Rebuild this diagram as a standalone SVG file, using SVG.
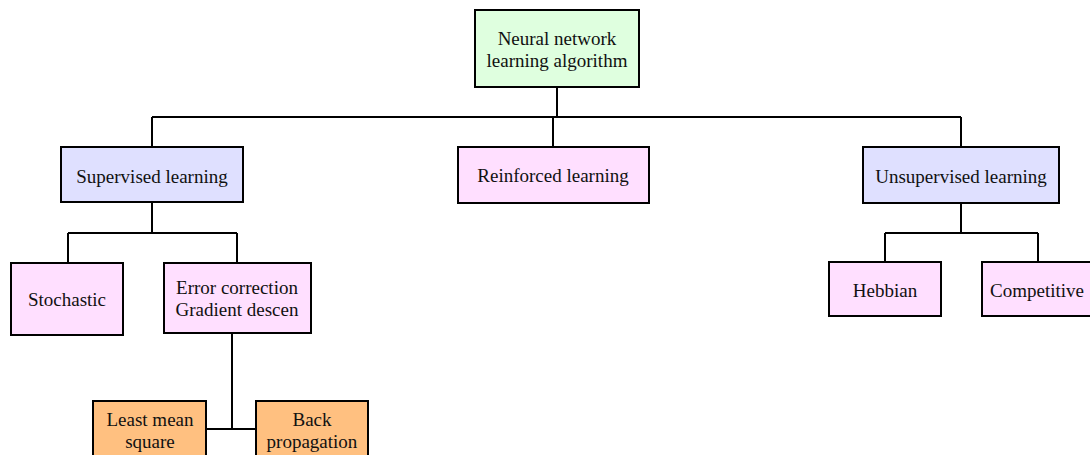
<svg xmlns="http://www.w3.org/2000/svg" width="1090" height="455" viewBox="0 0 1090 455">
  <style>
    .box { stroke: #000; stroke-width: 2; }
    .root { fill: #dfffdf; }
    .cat { fill: #dfe0ff; }
    .leaf { fill: #ffdfff; }
    .algo { fill: #ffc080; }
    text { font-family: "Liberation Serif", "Times New Roman", serif; font-size: 19px; fill: #111; text-anchor: middle; dominant-baseline: central; }
    .wire { fill: none; stroke: #000; stroke-width: 2; }
  </style>
  <rect width="1090" height="455" fill="#fff"/>

  <g id="connectors">
    <path class="wire" d="M557 87 V117 M152 117 H961 M152 117 V147 M553 117 V147 M961 117 V147"/>
    <path class="wire" d="M152 202 V233 M68 233 H237 M68 233 V263 M237 233 V263"/>
    <path class="wire" d="M961 203 V233 M885 233 H1038 M885 233 V262 M1038 233 V262"/>
    <path class="wire" d="M232 333 V429 M206 429 H256"/>
  </g>

  <g id="root">
    <rect class="box root" x="475" y="10" width="164" height="77"/>
    <text x="557" y="38">Neural network</text>
    <text x="557" y="60">learning algorithm</text>
  </g>

  <g id="supervised">
    <rect class="box cat" x="61" y="147" width="182" height="55"/>
    <text x="152" y="176">Supervised learning</text>
  </g>

  <g id="reinforced">
    <rect class="box leaf" x="458" y="147" width="191" height="56"/>
    <text x="553" y="175">Reinforced learning</text>
  </g>

  <g id="unsupervised">
    <rect class="box cat" x="863" y="147" width="196" height="56"/>
    <text x="961" y="176">Unsupervised learning</text>
  </g>

  <g id="stochastic">
    <rect class="box leaf" x="11" y="263" width="112" height="72"/>
    <text x="67" y="299">Stochastic</text>
  </g>

  <g id="error-correction">
    <rect class="box leaf" x="164" y="263" width="147" height="70"/>
    <text x="237" y="287">Error correction</text>
    <text x="237" y="309">Gradient descen</text>
  </g>

  <g id="hebbian">
    <rect class="box leaf" x="829" y="262" width="112" height="54"/>
    <text x="885" y="290">Hebbian</text>
  </g>

  <g id="competitive">
    <rect class="box leaf" x="982" y="262" width="110" height="54"/>
    <text x="1037" y="290">Competitive</text>
  </g>

  <g id="least-mean-square">
    <rect class="box algo" x="93" y="401" width="113" height="60"/>
    <text x="150" y="419">Least mean</text>
    <text x="150" y="441">square</text>
  </g>

  <g id="back-propagation">
    <rect class="box algo" x="256" y="401" width="112" height="60"/>
    <text x="312" y="419">Back</text>
    <text x="312" y="441">propagation</text>
  </g>
</svg>
